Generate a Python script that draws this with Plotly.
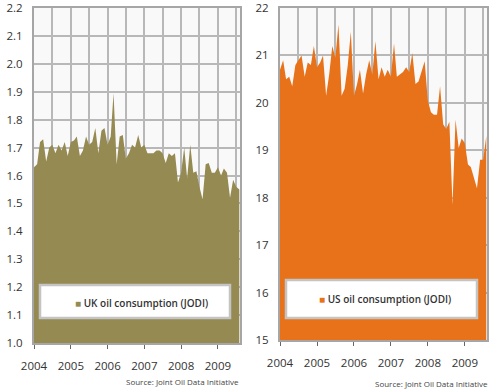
import pandas as pd
import plotly.graph_objects as go

months = pd.date_range("2004-01-01", periods=68, freq="MS")

uk_values = [1.63, 1.64, 1.72, 1.73, 1.65, 1.70, 1.71, 1.68, 1.71, 1.69, 1.72, 1.67,
             1.72, 1.725, 1.74, 1.67, 1.69, 1.74, 1.71, 1.72, 1.77, 1.68, 1.76, 1.77,
             1.71, 1.74, 1.895, 1.64, 1.74, 1.745, 1.66, 1.68, 1.71, 1.70, 1.745, 1.70,
             1.71, 1.68, 1.68, 1.68, 1.69, 1.69, 1.68, 1.645, 1.68, 1.67, 1.68, 1.575,
             1.61, 1.70, 1.59, 1.71, 1.61, 1.615, 1.56, 1.515, 1.64, 1.645, 1.61, 1.61,
             1.63, 1.60, 1.625, 1.61, 1.52, 1.585, 1.56, 1.55]

us_values = [20.7, 20.9, 20.5, 20.55, 20.35, 20.8, 20.9, 21.0, 20.55, 20.85, 20.8, 21.2,
             20.75, 20.85, 21.0, 20.15, 20.6, 21.2, 20.95, 21.65, 20.15, 20.3, 20.8, 21.5,
             20.15, 20.4, 20.7, 20.2, 20.6, 20.9, 20.6, 21.3, 20.5, 20.75, 20.55, 20.7,
             20.55, 21.25, 20.55, 20.6, 20.65, 20.75, 20.65, 21.05, 20.4, 20.45, 20.65, 20.88,
             20.05, 19.8, 19.75, 19.75, 20.35, 19.55, 19.45, 19.6, 17.85, 19.65, 19.05, 19.25,
             19.15, 18.7, 18.65, 18.4, 18.2, 18.8, 18.8, 19.3]

uk_ticks = ["1.0", "1.1", "1.2", "1.3", "1.4", "1.5", "1.6", "1.7", "1.8", "1.9", "2.0", "2.1", "2.2"]
us_ticks = ["15", "16", "17", "18", "19", "20", "21", "22"]
year_ticks = ["2004", "2005", "2006", "2007", "2008", "2009"]

uk_label = "UK oil consumption (JODI)"
us_label = "US oil consumption (JODI)"
source = "Source: Joint Oil Data Initiative"

UK_COLOR = "#958a52"
US_COLOR = "#e8721a"
GRID = "#b8b8b8"
FONT = "Open Sans"
TXT = "#333333"

fig = go.Figure()
fig.add_trace(go.Scatter(x=months, y=uk_values, mode="lines", fill="tozeroy",
                         line=dict(width=0, color=UK_COLOR), fillcolor=UK_COLOR,
                         name=uk_label, xaxis="x", yaxis="y", showlegend=False))
fig.add_trace(go.Scatter(x=months, y=us_values, mode="lines", fill="tozeroy",
                         line=dict(width=0, color=US_COLOR), fillcolor=US_COLOR,
                         name=us_label, xaxis="x2", yaxis="y2", showlegend=False))

year_vals = [f"{y}-01-01" for y in year_ticks]
xcommon = dict(type="date", range=["2004-01-01", "2009-08-08"],
               tickvals=year_vals, ticktext=year_ticks, automargin=False,
               ticklabeloverflow="allow", ticklabelstandoff=7,
               showgrid=True, gridcolor=GRID, gridwidth=2,
               minor=dict(dtick="M6", tick0="2004-01-01", showgrid=True, gridcolor=GRID, gridwidth=2),
               ticks="outside", ticklen=4, tickwidth=1, tickcolor="#666",
               showline=True, linecolor="#a6a6a6", linewidth=2, mirror=True,
               tickfont=dict(family=FONT, size=11.5, color=TXT), zeroline=False)

ycommon = dict(showgrid=True, gridcolor=GRID, gridwidth=2, zeroline=False, automargin=False,
               ticklabeloverflow="allow", ticklabelstandoff=7,
               ticks="", showline=True, linecolor="#a6a6a6", linewidth=2, mirror=True,
               tickfont=dict(family=FONT, size=11.5, color=TXT))

fig.update_layout(
    width=500, height=390,
    margin=dict(l=0, r=0, t=0, b=0, autoexpand=False),
    paper_bgcolor="white", plot_bgcolor="#f9f9f9",
    xaxis=dict(domain=[0.068, 0.48], anchor="y", **xcommon),
    yaxis=dict(domain=[0.1205, 0.9795], anchor="x", range=[1.0, 2.2],
               tickvals=[float(t) for t in uk_ticks], ticktext=uk_ticks, **ycommon),
    xaxis2=dict(domain=[0.56, 0.974], anchor="y2", **xcommon),
    yaxis2=dict(domain=[0.128, 0.9795], anchor="x2", range=[15, 22],
                tickvals=[float(t) for t in us_ticks], ticktext=us_ticks, **ycommon),
)

# legend boxes
fig.add_shape(type="rect", xref="paper", yref="paper", x0=0.08, x1=0.46,
              y0=1 - 318 / 390, y1=1 - 285 / 390, fillcolor="white",
              line=dict(color="#c4c4c4", width=2.5), layer="above")
fig.add_shape(type="rect", xref="paper", yref="paper", x0=0.572, x1=0.954,
              y0=1 - 318 / 390, y1=1 - 280 / 390, fillcolor="white",
              line=dict(color="#c4c4c4", width=2.5), layer="above")

fig.add_annotation(xref="paper", yref="paper", x=0.282, y=1 - 303 / 390,
                   text=f"<span style='color:{UK_COLOR}'>■</span> {uk_label}",
                   showarrow=False, font=dict(family=FONT, size=10, color="#333", weight=600),
                   xanchor="center", yanchor="middle")
fig.add_annotation(xref="paper", yref="paper", x=0.770, y=1 - 299 / 390,
                   text=f"<span style='color:{US_COLOR}'>■</span> {us_label}",
                   showarrow=False, font=dict(family=FONT, size=10, color="#333", weight=600),
                   xanchor="center", yanchor="middle")

fig.add_annotation(xref="paper", yref="paper", x=0.482, y=1 - 381 / 390,
                   text=source, showarrow=False,
                   font=dict(family=FONT, size=8, color="#444"),
                   xanchor="right", yanchor="middle")
fig.add_annotation(xref="paper", yref="paper", x=0.98, y=1 - 383 / 390,
                   text=source, showarrow=False,
                   font=dict(family=FONT, size=8, color="#444"),
                   xanchor="right", yanchor="middle")

fig.write_html("out.html", config={"displayModeBar": False},
               post_script="document.body.style.margin='0px';document.body.style.overflow='hidden';")
